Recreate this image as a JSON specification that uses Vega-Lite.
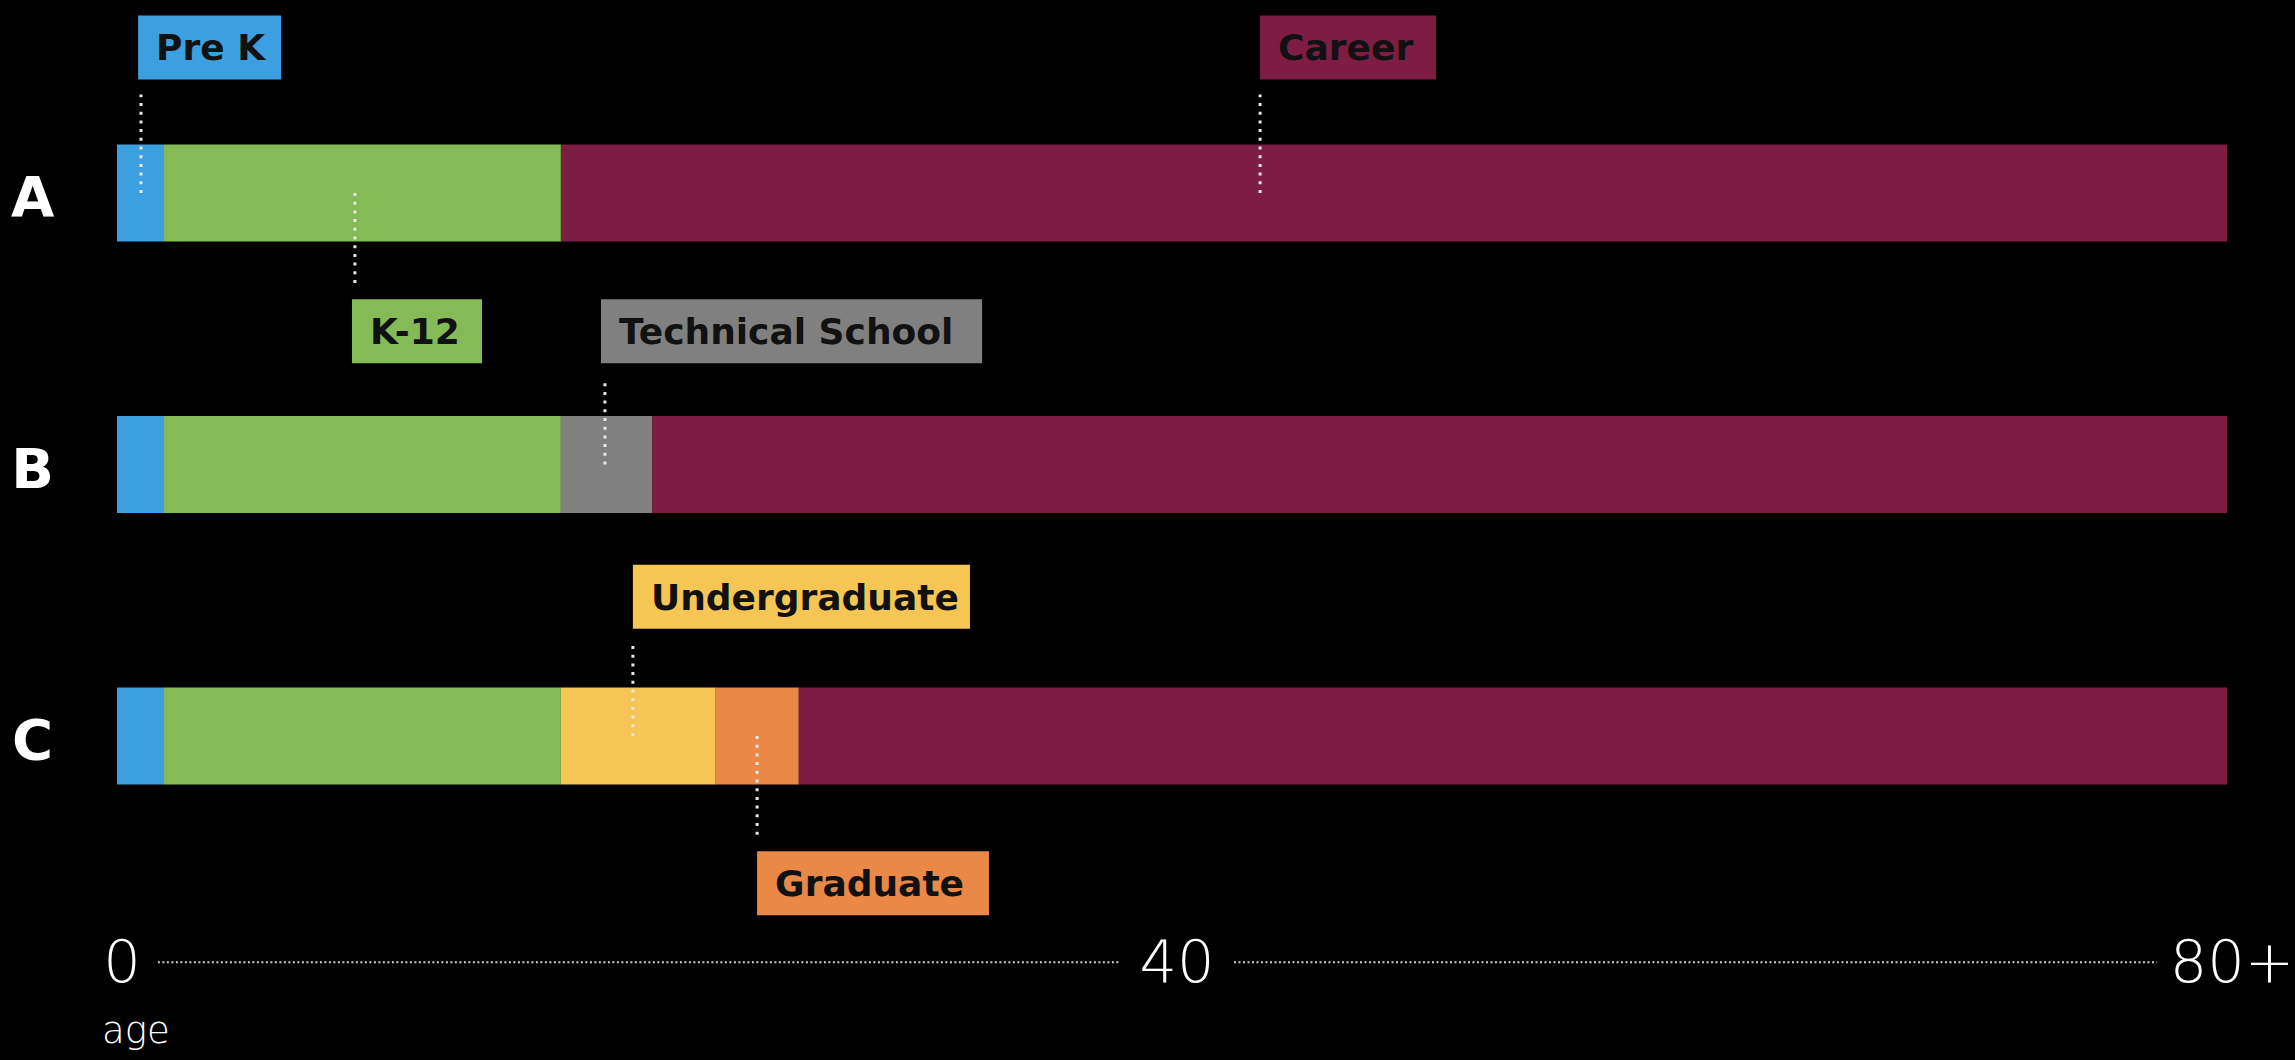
{
  "$schema": "https://vega.github.io/schema/vega-lite/v6.json",
  "width": 2295,
  "height": 1060,
  "autosize": "none",
  "padding": 0,
  "background": "#000000",
  "config": {"view": {"stroke": null}},
  "datasets": {
    "segments": [
      {"row": "A", "lane": 1, "stage": "Pre K", "start": 0, "end": 1.75},
      {"row": "A", "lane": 1, "stage": "K-12", "start": 1.75, "end": 16.83},
      {"row": "A", "lane": 1, "stage": "Career", "start": 16.83, "end": 80},
      {"row": "B", "lane": 2, "stage": "Pre K", "start": 0, "end": 1.75},
      {"row": "B", "lane": 2, "stage": "K-12", "start": 1.75, "end": 16.83},
      {"row": "B", "lane": 2, "stage": "Technical School", "start": 16.83, "end": 20.3},
      {"row": "B", "lane": 2, "stage": "Career", "start": 20.3, "end": 80},
      {"row": "C", "lane": 3, "stage": "Pre K", "start": 0, "end": 1.75},
      {"row": "C", "lane": 3, "stage": "K-12", "start": 1.75, "end": 16.83},
      {"row": "C", "lane": 3, "stage": "Undergraduate", "start": 16.83, "end": 22.7},
      {"row": "C", "lane": 3, "stage": "Graduate", "start": 22.7, "end": 25.85},
      {"row": "C", "lane": 3, "stage": "Career", "start": 25.85, "end": 80}
    ],
    "labels": [
      {"stage": "Pre K", "lane": 1, "boxLane": 0.464, "lineX": 0.91, "boxStart": 0.8, "boxEnd": 6.22, "side": "above"},
      {"stage": "Career", "lane": 1, "boxLane": 0.464, "lineX": 43.34, "boxStart": 43.34, "boxEnd": 50.01, "side": "above"},
      {"stage": "K-12", "lane": 1, "boxLane": 1.509, "lineX": 9.02, "boxStart": 8.91, "boxEnd": 13.84, "side": "below"},
      {"stage": "Technical School", "lane": 2, "boxLane": 1.509, "lineX": 18.5, "boxStart": 18.35, "boxEnd": 32.8, "side": "above"},
      {"stage": "Undergraduate", "lane": 3, "boxLane": 2.487, "lineX": 19.56, "boxStart": 19.56, "boxEnd": 32.34, "side": "above"},
      {"stage": "Graduate", "lane": 3, "boxLane": 3.542, "lineX": 24.27, "boxStart": 24.27, "boxEnd": 33.06, "side": "below"}
    ],
    "rows": [
      {"row": "A", "lane": 1, "x": -3.2},
      {"row": "B", "lane": 2, "x": -3.2},
      {"row": "C", "lane": 3, "x": -3.2}
    ],
    "ticks": [
      {"label": "0", "age": 0, "lane": 3.84},
      {"label": "40", "age": 40, "lane": 3.84},
      {"label": "80+", "age": 80, "lane": 3.84}
    ],
    "axisline": [
      {"from": 1.55, "to": 38.03, "lane": 3.833},
      {"from": 42.35, "to": 77.35, "lane": 3.833}
    ],
    "caption": [
      {"text": "age", "age": 0, "lane": 4.09}
    ]
  },
  "layer": [
    {
      "data": {"name": "segments"},
      "mark": {"type": "bar", "orient": "horizontal", "size": 97},
      "encoding": {
        "x": {"field": "start", "type": "quantitative", "scale": {"domain": [0, 80], "range": [117, 2227], "zero": false, "nice": false}, "axis": null},
        "x2": {"field": "end"},
        "y": {"field": "lane", "type": "quantitative", "scale": {"domain": [1, 3], "range": [188, 741], "zero": false, "nice": false}, "axis": null},
        "color": {
          "field": "stage", "type": "nominal", "legend": null,
          "scale": {
            "domain": ["Pre K", "K-12", "Technical School", "Undergraduate", "Graduate", "Career"],
            "range": ["#3c9fdf", "#84bb56", "#808080", "#f6c654", "#ea8847", "#7e1d44"]
          }
        }
      }
    },
    {
      "data": {"name": "labels"},
      "transform": [{"filter": "datum.side == 'above'"}],
      "mark": {"type": "rule", "color": "#e8e8e8", "strokeWidth": 3, "strokeDash": [3, 5.7], "y2Offset": 47},
      "encoding": {
        "x": {"field": "lineX", "type": "quantitative"},
        "y": {"field": "lane", "type": "quantitative"},
        "y2": {"field": "boxLane"}
      }
    },
    {
      "data": {"name": "labels"},
      "transform": [{"filter": "datum.side == 'below'"}],
      "mark": {"type": "rule", "color": "#e8e8e8", "strokeWidth": 3, "strokeDash": [3, 5.7], "y2Offset": -47},
      "encoding": {
        "x": {"field": "lineX", "type": "quantitative"},
        "y": {"field": "lane", "type": "quantitative"},
        "y2": {"field": "boxLane"}
      }
    },
    {
      "data": {"name": "labels"},
      "mark": {"type": "bar", "orient": "horizontal", "size": 64},
      "encoding": {
        "x": {"field": "boxStart", "type": "quantitative"},
        "x2": {"field": "boxEnd"},
        "y": {"field": "boxLane", "type": "quantitative"},
        "color": {"field": "stage", "type": "nominal", "legend": null}
      }
    },
    {
      "data": {"name": "labels"},
      "mark": {"type": "text", "align": "left", "baseline": "middle", "dx": 18, "dy": 2, "font": "DejaVu Sans", "fontWeight": "bold", "fontSize": 36, "color": "#111111"},
      "encoding": {
        "x": {"field": "boxStart", "type": "quantitative"},
        "y": {"field": "boxLane", "type": "quantitative"},
        "text": {"field": "stage"}
      }
    },
    {
      "data": {"name": "rows"},
      "mark": {"type": "text", "align": "center", "baseline": "middle", "dy": 6, "font": "DejaVu Sans", "fontWeight": "bold", "fontSize": 56, "color": "#ffffff"},
      "encoding": {
        "x": {"field": "x", "type": "quantitative"},
        "y": {"field": "lane", "type": "quantitative"},
        "text": {"field": "row"}
      }
    },
    {
      "data": {"name": "axisline"},
      "mark": {"type": "rule", "color": "#d0d0d0", "strokeWidth": 2, "strokeDash": [2, 2.5]},
      "encoding": {
        "x": {"field": "from", "type": "quantitative"},
        "x2": {"field": "to"},
        "y": {"field": "lane", "type": "quantitative"}
      }
    },
    {
      "data": {"name": "ticks"},
      "mark": {"type": "text", "align": "center", "baseline": "middle", "dx": 5, "font": "DejaVu Sans", "fontWeight": 200, "fontSize": 59, "color": "#ffffff"},
      "encoding": {
        "x": {"field": "age", "type": "quantitative"},
        "y": {"field": "lane", "type": "quantitative"},
        "text": {"field": "label"}
      }
    },
    {
      "data": {"name": "caption"},
      "mark": {"type": "text", "align": "left", "baseline": "middle", "dx": -15, "font": "DejaVu Sans", "fontWeight": 200, "fontSize": 37, "color": "#ffffff"},
      "encoding": {
        "x": {"field": "age", "type": "quantitative"},
        "y": {"field": "lane", "type": "quantitative"},
        "text": {"field": "text"}
      }
    }
  ]
}
